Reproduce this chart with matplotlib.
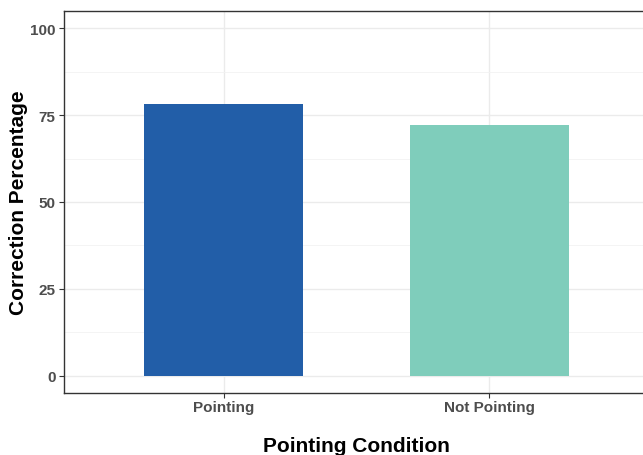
import matplotlib
matplotlib.use('Agg')
import matplotlib.pyplot as plt
from matplotlib.ticker import MultipleLocator

plt.rcParams['font.family'] = ['Liberation Sans', 'DejaVu Sans']

conditions = ['Pointing', 'Not Pointing']
percentages = [78.2, 72.1]
bar_colors = ['#225EA8', '#7FCDBB']
y_ticks = [0, 25, 50, 75, 100]

fig = plt.figure(figsize=(6.43, 4.56), dpi=100)
W, H = 643, 456
# panel extends slightly past the right edge, as in the reference
ax = fig.add_axes([64 / W, (H - 394) / H, (649 - 64) / W, (394 - 12) / H])

xpos = list(range(1, len(conditions) + 1))
ax.bar(xpos, percentages, width=0.6, color=bar_colors, zorder=3)

ax.set_xlim(0.4, 2.6)
ax.set_ylim(-5, 105)
ax.set_xticks(xpos)
ax.set_xticklabels(conditions)
ax.set_yticks(y_ticks)
ax.yaxis.set_minor_locator(MultipleLocator(12.5))

ax.grid(True, which='major', color='#EBEBEB', linewidth=1.0, zorder=0)
ax.grid(True, which='minor', axis='y', color='#F2F2F2', linewidth=0.6, zorder=0)
ax.set_axisbelow(True)

for s in ax.spines.values():
    s.set_color('#333333')
    s.set_linewidth(1.0)

ax.tick_params(axis='both', which='major', length=3.5, width=0.8, color='#333333',
               labelsize=11, labelcolor='#4D4D4D', pad=2.5)
ax.tick_params(axis='x', which='major', pad=1.5)
ax.tick_params(axis='y', which='minor', length=0)
for lab in ax.get_xticklabels() + ax.get_yticklabels():
    lab.set_fontweight('bold')

ax.set_xlabel('Pointing Condition', fontsize=15, fontweight='bold', va='center')
ax.xaxis.set_label_coords(0.5, (394 - 447) / 382)
ax.set_ylabel('Correction Percentage', fontsize=15, fontweight='bold', va='center')
ax.yaxis.set_label_coords((19 - 64) / 585, 0.5)

fig.savefig('out.png', dpi=100)
